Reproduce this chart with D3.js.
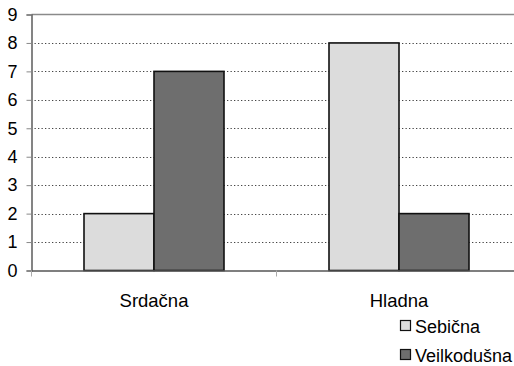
<!DOCTYPE html>
<html>
<head>
<meta charset="utf-8">
<script src="https://cdn.jsdelivr.net/npm/d3@7"></script>
<style>
  html, body { margin: 0; padding: 0; background: #fff; }
  svg { display: block; }
  text { font-family: Arial, "Liberation Sans", sans-serif; fill: #000; }
</style>
</head>
<body>
<svg id="chart" width="514" height="366"></svg>
<script>
const categories = ["Srdačna", "Hladna"];
const seriesNames = ["Sebična", "Veilkodušna"];
const sebicna = [2, 8];
const veilkodusna = [7, 2];
const yTicks = [0, 1, 2, 3, 4, 5, 6, 7, 8, 9];
const colors = ["#dcdcdc", "#6e6e6e"];

const FONT = "Arial, 'Liberation Sans', sans-serif";
const svg = d3.select("#chart");
const plotLeft = 31.5, plotRight = 521.5, plotTop = 14.5, plotBottom = 270.5;

const x = d3.scaleBand().domain(categories).range([plotLeft, plotRight]).paddingInner(0).paddingOuter(0);
const y = d3.scaleLinear().domain([0, 9]).range([plotBottom, plotTop]);

// Dotted gridlines
svg.append("g").selectAll("line").data(yTicks.filter(d => d > 0 && d < 9)).join("line")
  .attr("x1", plotLeft + 3).attr("x2", plotRight)
  .attr("y1", d => Math.round(y(d)) + 0.5).attr("y2", d => Math.round(y(d)) + 0.5)
  .attr("stroke", "#444").attr("stroke-width", 1).attr("stroke-dasharray", "1.3,2.2");

// Top border of plot area
svg.append("line").attr("x1", plotLeft).attr("x2", plotRight).attr("y1", plotTop).attr("y2", plotTop)
  .attr("stroke", "#8a8a8a").attr("stroke-width", 1.6);

// Bars: two series side by side, centred in each category band
const bw = 70;
categories.forEach((c, i) => {
  const cx = x(c) + x.bandwidth() / 2;
  [sebicna[i], veilkodusna[i]].forEach((v, j) => {
    svg.append("rect")
      .attr("x", cx - bw + j * bw).attr("y", y(v))
      .attr("width", bw).attr("height", y(0) - y(v))
      .attr("fill", colors[j]).attr("stroke", "#111").attr("stroke-width", 1.6);
  });
});

// Y axis
const yAxis = d3.axisLeft(y).tickValues(yTicks).tickSize(5).tickPadding(9).tickFormat(d3.format("d"));
const gy = svg.append("g").attr("transform", `translate(${plotLeft},0)`).call(yAxis);
gy.select(".domain").attr("stroke", "#666").attr("stroke-width", 1.6);
gy.selectAll(".tick line").attr("stroke", "#888");
gy.selectAll(".tick text").attr("font-size", 18).attr("font-family", FONT).attr("fill", "#000");

// X axis
const xAxis = d3.axisBottom(x).tickSize(0).tickPadding(23);
const gx = svg.append("g").attr("transform", `translate(0,${plotBottom})`).call(xAxis);
gx.select(".domain").attr("stroke", "#555").attr("stroke-width", 1.6);
gx.selectAll(".tick text").attr("font-size", 18.5).attr("font-family", FONT).attr("fill", "#000");
// Category separators
svg.append("g").selectAll("line").data([plotLeft, x(categories[1])]).join("line")
  .attr("x1", d => d).attr("x2", d => d).attr("y1", plotBottom).attr("y2", plotBottom + 6)
  .attr("stroke", "#aaa").attr("stroke-width", 1);

// Legend
const legend = svg.append("g");
seriesNames.forEach((s, i) => {
  const ly = 326 + i * 29;
  legend.append("rect").attr("x", 400.5).attr("y", ly - 5.5).attr("width", 10).attr("height", 10)
    .attr("fill", colors[i]).attr("stroke", "#111").attr("stroke-width", 1.2);
  legend.append("text").attr("x", 415).attr("y", ly + 6.5).attr("font-size", 18)
    .attr("font-family", FONT).text(s);
});
</script>
</body>
</html>
